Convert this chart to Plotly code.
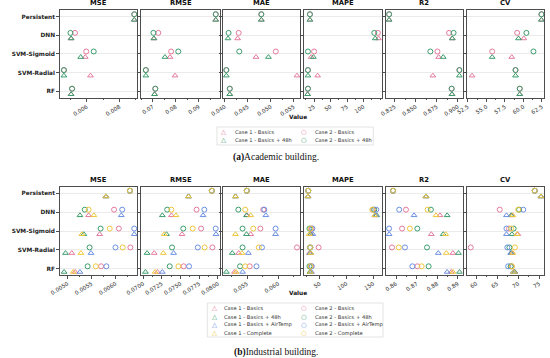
import plotly.graph_objects as go

models = ["Persistent", "DNN", "SVM-Sigmoid", "SVM-Radial", "RF"]
metrics = ["MSE", "RMSE", "MAE", "MAPE", "R2", "CV"]

# ---------------- (a) Academic building ----------------
a_c1_basics = {
    "MSE": [0.00891, 0.00503, 0.00590, 0.00622, 0.00503],
    "RMSE": [0.0974, 0.0705, 0.0775, 0.0797, 0.0708],
    "MAE": [0.04795, 0.0428, 0.0468, 0.0557, 0.0411],
    "MAPE": [18.7, 122.5, 20.6, 30.4, 15.2],
    "R2": [0.8184, 0.8933, 0.8772, 0.8703, 0.8930],
    "CV": [62.43, 60.05, 58.42, 53.06, 59.5],
}
a_c1_48h = {
    "MSE": [0.00891, 0.00503, 0.00562, 0.00459, 0.00503],
    "RMSE": [0.0974, 0.0705, 0.0753, 0.0670, 0.0708],
    "MAE": [0.04795, 0.0407, 0.0495, 0.04035, 0.0411],
    "MAPE": [18.7, 117.6, 24.0, 15.7, 15.2],
    "R2": [0.8184, 0.8933, 0.8826, 0.9018, 0.8930],
    "CV": [62.43, 59.33, 55.78, 58.93, 59.5],
}
a_c2_basics = {
    "MSE": [0.00891, 0.00527, 0.00596, 0.00459, 0.00509],
    "RMSE": [0.0974, 0.0724, 0.0780, 0.0670, 0.0711],
    "MAE": [0.04795, 0.04303, 0.0511, 0.04035, 0.0411],
    "MAPE": [18.7, 121.6, 25.0, 15.7, 15.7],
    "R2": [0.8184, 0.8895, 0.8757, 0.9018, 0.8926],
    "CV": [62.43, 59.15, 55.78, 58.93, 59.5],
}
a_c2_48h = {
    "MSE": [0.00891, 0.00499, 0.00642, 0.00459, 0.00509],
    "RMSE": [0.0974, 0.0703, 0.0811, 0.0670, 0.0711],
    "MAE": [0.04795, 0.04084, 0.04316, 0.04035, 0.0411],
    "MAPE": [18.7, 116.2, 15.7, 15.7, 15.7],
    "R2": [0.8184, 0.8949, 0.8673, 0.9018, 0.8926],
    "CV": [62.43, 60.4, 61.35, 58.93, 59.5],
}

# ---------------- (b) Industrial building ----------------
b_c1_basics = {
    "MSE": [0.0058, 0.00544, 0.00567, 0.00509, 0.00516],
    "RMSE": [0.07606, 0.07377, 0.07519, 0.07147, 0.07191],
    "MAE": [0.05313, 0.0550, 0.05558, 0.05364, 0.05297],
    "MAPE": [27.6, 153.6, 33.6, 30.5, 33.1],
    "R2": [0.8745, 0.8813, 0.8771, 0.8876, 0.8868],
    "CV": [75.4, 68.5, 69.9, 68.5, 69.2],
}
b_c1_48h = {
    "MSE": [0.0058, 0.00526, 0.00534, 0.00496, 0.00493],
    "RMSE": [0.07606, 0.07256, 0.07312, 0.07052, 0.07030],
    "MAE": [0.05313, 0.0549, 0.0549, 0.05261, 0.05167],
    "MAPE": [27.6, 156.4, 32.4, 31.8, 31.3],
    "R2": [0.8745, 0.8848, 0.8829, 0.8903, 0.8908],
    "CV": [75.4, 68.3, 68.5, 68.3, 69.1],
}
b_c1_air = {
    "MSE": [0.0058, 0.00612, 0.00639, 0.00549, 0.00526],
    "RMSE": [0.07606, 0.07801, 0.07974, 0.07407, 0.07256],
    "MAE": [0.05313, 0.05802, 0.05958, 0.0552, 0.05427],
    "MAPE": [27.6, 154.5, 36.7, 32.4, 34.2],
    "R2": [0.8745, 0.8687, 0.8566, 0.8805, 0.8848],
    "CV": [75.4, 67.2, 67.2, 68.2, 68.8],
}
b_c1_complete = {
    "MSE": [0.0058, 0.00555, 0.00530, 0.00528, 0.00512],
    "RMSE": [0.07606, 0.07438, 0.07282, 0.07269, 0.07160],
    "MAE": [0.05313, 0.05558, 0.05313, 0.05417, 0.05323],
    "MAPE": [27.6, 152.7, 30.0, 33.1, 32.4],
    "R2": [0.8745, 0.8794, 0.8841, 0.8844, 0.8876],
    "CV": [75.4, 68.7, 69.7, 68.7, 68.9],
}
b_c2_basics = {
    "MSE": [0.0063, 0.00597, 0.00607, 0.00631, 0.00570],
    "RMSE": [0.07918, 0.07714, 0.07775, 0.07926, 0.07541],
    "MAE": [0.05495, 0.0576, 0.05714, 0.06302, 0.05542],
    "MAPE": [28.2, 150.0, 34.2, 47.6, 33.6],
    "R2": [0.8585, 0.8648, 0.8629, 0.8580, 0.8703],
    "CV": [73.93, 65.6, 67.8, 58.7, 68.4],
}
b_c2_48h = {
    "MSE": [0.0063, 0.00536, 0.00569, 0.00546, 0.00542],
    "RMSE": [0.07918, 0.07321, 0.07536, 0.07386, 0.07355],
    "MAE": [0.05495, 0.05359, 0.05427, 0.05427, 0.05386],
    "MAPE": [28.2, 151.8, 30.5, 31.3, 30.5],
    "R2": [0.8585, 0.8769, 0.8703, 0.8750, 0.8758],
    "CV": [73.93, 70.2, 68.9, 67.9, 68.2],
}
b_c2_air = {
    "MSE": [0.0063, 0.00614, 0.00639, 0.00600, 0.00581],
    "RMSE": [0.07918, 0.07818, 0.07970, 0.07731, 0.07614],
    "MAE": [0.05495, 0.05777, 0.05958, 0.05739, 0.05651],
    "MAPE": [28.2, 155.5, 36.0, 32.4, 34.9],
    "R2": [0.8585, 0.8615, 0.8566, 0.8643, 0.8679],
    "CV": [73.93, 71.2, 67.2, 67.4, 67.6],
}
b_c2_complete = {
    "MSE": [0.0063, 0.00544, 0.00588, 0.00615, 0.00559],
    "RMSE": [0.07918, 0.07377, 0.07662, 0.07822, 0.07471],
    "MAE": [0.05495, 0.05469, 0.05599, 0.05688, 0.05469],
    "MAPE": [28.2, 148.2, 32.4, 31.8, 32.4],
    "R2": [0.8585, 0.8753, 0.8667, 0.8613, 0.8724],
    "CV": [73.93, 70.0, 68.3, 69.2, 68.5],
}

# axis ranges / ticks
ranges_a = {"MSE": [0.00433, 0.0091], "RMSE": [0.0650, 0.0992], "MAE": [0.03958, 0.05646],
            "MAPE": [10.3, 127.9], "R2": [0.8146, 0.9056], "CV": [52.44, 62.8]}
ticks_a = {"MSE": [0.006, 0.008], "RMSE": [0.07, 0.08, 0.09], "MAE": [0.040, 0.045, 0.050, 0.055],
           "MAPE": [25, 50, 75, 100], "R2": [0.825, 0.850, 0.875, 0.900], "CV": [52.5, 55.0, 57.5, 60.0, 62.5]}
fmt_a = {"MSE": ".3f", "RMSE": ".2f", "MAE": ".3f", "MAPE": "d", "R2": ".3f", "CV": ".1f"}

ranges_b = {"MSE": [0.004838, 0.006455], "RMSE": [0.06974, 0.08026], "MAE": [0.05109, 0.06359],
            "MAPE": [20.9, 166.4], "R2": [0.85505, 0.89231], "CV": [57.92, 76.17]}
ticks_b = {"MSE": [0.0050, 0.0055, 0.0060], "RMSE": [0.0700, 0.0725, 0.0750, 0.0775, 0.0800],
           "MAE": [0.055, 0.060], "MAPE": [50, 100, 150], "R2": [0.86, 0.87, 0.88, 0.89], "CV": [60, 65, 70, 75]}
fmt_b = {"MSE": ".4f", "RMSE": ".4f", "MAE": ".3f", "MAPE": "d", "R2": ".2f", "CV": "d"}

PINK, GREEN, BLUE, YELLOW = "#e57a9c", "#3a9d6c", "#6a8fe2", "#eec63a"

series_a = [
    ("Case 1 - Basics", a_c1_basics, PINK, "tri"),
    ("Case 1 - Basics + 48h", a_c1_48h, GREEN, "tri"),
    ("Case 2 - Basics", a_c2_basics, PINK, "circ"),
    ("Case 2 - Basics + 48h", a_c2_48h, GREEN, "circ"),
]
series_b = [
    ("Case 1 - Basics", b_c1_basics, PINK, "tri"),
    ("Case 1 - Basics + 48h", b_c1_48h, GREEN, "tri"),
    ("Case 1 - Basics + AirTemp", b_c1_air, BLUE, "tri"),
    ("Case 1 - Complete", b_c1_complete, YELLOW, "tri"),
    ("Case 2 - Basics", b_c2_basics, PINK, "circ"),
    ("Case 2 - Basics + 48h", b_c2_48h, GREEN, "circ"),
    ("Case 2 - Basics + AirTemp", b_c2_air, BLUE, "circ"),
    ("Case 2 - Complete", b_c2_complete, YELLOW, "circ"),
]

W, H = 550, 358
col_px = [(45, 125), (129, 210), (213, 293), (297, 377), (381, 460), (465, 544)]
row_px = [(10, 98), (187, 275)]
yranges = [[4.37, -0.36], [4.33, -0.33]]
offsets = {"circ": -0.13, "tri": 0.17}
symbols = {"circ": "circle-open", "tri": "triangle-up-open"}

def px(x):
    return x / W

def py(y):
    return 1 - y / H

fig = go.Figure()
layout = {}
annotations = []
shapes = []
FONT = "DejaVu Sans"
AX = "#4d4d4d"

for r, (series, ranges, ticks, fmts) in enumerate([(series_a, ranges_a, ticks_a, fmt_a),
                                                   (series_b, ranges_b, ticks_b, fmt_b)]):
    for j, m in enumerate(metrics):
        k = r * 6 + j + 1
        xn = "x" if k == 1 else f"x{k}"
        yn = "y" if k == 1 else f"y{k}"
        for name, data, color, kind in series:
            fig.add_trace(go.Scatter(
                x=data[m], y=[i + offsets[kind] for i in range(len(models))],
                mode="markers", name=name, showlegend=False,
                marker=dict(symbol=symbols[kind], size=5, color=color,
                            line=dict(width=1.0, color=color)),
                xaxis=xn, yaxis=yn, hoverinfo="x+name"))
        x0, x1 = col_px[j]
        y0, y1 = row_px[r]
        major = ticks[m][1] - ticks[m][0]
        layout["xaxis" if k == 1 else f"xaxis{k}"] = dict(
            domain=[px(x0), px(x1)], anchor=yn, range=ranges[m],
            tickvals=ticks[m], tickformat=fmts[m], tickangle=-32,
            tickfont=dict(family=FONT, size=5.6, color="#333"),
            showgrid=False, zeroline=False, showline=True, linecolor=AX, linewidth=1,
            mirror=True, ticks="outside", ticklen=2.5, tickwidth=0.7, tickcolor=AX,
            minor=dict(ticks="outside", ticklen=1.4, tickwidth=0.5, tickcolor=AX,
                       dtick=major / 2, tick0=ticks[m][0]))
        layout["yaxis" if k == 1 else f"yaxis{k}"] = dict(
            domain=[py(y1), py(y0)], anchor=xn, range=yranges[r],
            tickvals=list(range(len(models))),
            ticktext=[f"<b>{n}</b>" for n in models], showticklabels=(j == 0),
            tickfont=dict(family=FONT, size=5.8, color="#222"),
            showgrid=True, gridcolor="#ebebeb", gridwidth=0.6, zeroline=False,
            showline=True, linecolor=AX, linewidth=1, mirror=True,
            ticks="outside", ticklen=2.5, tickwidth=0.7, tickcolor=AX)
        annotations.append(dict(text=f"<b>{m}</b>", x=px((x0 + x1) / 2), y=py(y0 - 1),
                                xref="paper", yref="paper", xanchor="center", yanchor="bottom",
                                showarrow=False, font=dict(family=FONT, size=6.8, color="#111")))

# axis labels "Value"
for yv in (117, 293):
    annotations.append(dict(text="<b>Value</b>", x=px(290), y=py(yv), xref="paper", yref="paper",
                            xanchor="center", yanchor="middle", showarrow=False,
                            font=dict(family=FONT, size=5.8, color="#111")))

# legends (drawn as text)
def legend_block(entries, box, cols_x, rows_y):
    bx0, by0, bx1, by1 = box
    shapes.append(dict(type="rect", xref="paper", yref="paper", x0=px(bx0), x1=px(bx1),
                       y0=py(by1), y1=py(by0), line=dict(color="#dcdcdc", width=0.8),
                       fillcolor="rgba(255,255,255,0.9)", layer="above"))
    nrows = len(rows_y)
    for idx, (name, _, color, kind) in enumerate(entries):
        c, rr = divmod(idx, nrows)
        mx, tx = cols_x[c]
        yy = rows_y[rr]
        glyph = "\u25B3" if kind == "tri" else "\u25CB"
        annotations.append(dict(text=f"<b>{glyph}</b>", x=px(mx), y=py(yy), xref="paper", yref="paper",
                                xanchor="center", yanchor="middle", showarrow=False,
                                font=dict(family=FONT, size=6.5, color=color)))
        annotations.append(dict(text=name, x=px(tx), y=py(yy), xref="paper", yref="paper",
                                xanchor="left", yanchor="middle", showarrow=False,
                                font=dict(family=FONT, size=5.2, color="#333")))

legend_block(series_a, (207, 127, 368, 145), [(214, 223), (297, 306)], [132.3, 139.5])
legend_block(series_b, (197, 303, 378, 337), [(204, 212), (297, 306)], [308.3, 316.6, 324.9, 333.1])

# captions
for txt, yv in (("<b>(a)</b>Academic building.", 158), ("<b>(b)</b>Industrial building.", 352)):
    annotations.append(dict(text=txt, x=px(268), y=py(yv), xref="paper", yref="paper",
                            xanchor="center", yanchor="middle", showarrow=False,
                            font=dict(family="Liberation Serif", size=9.5, color="#111")))

fig.update_layout(**layout)
fig.update_layout(width=W, height=H, margin=dict(l=0, r=0, t=0, b=0),
                  paper_bgcolor="white", plot_bgcolor="white", showlegend=False,
                  annotations=annotations, shapes=shapes)
fig.write_html("out.html", config={"displayModeBar": False},
               post_script="document.body.style.margin='0';document.body.style.overflow='hidden';")
